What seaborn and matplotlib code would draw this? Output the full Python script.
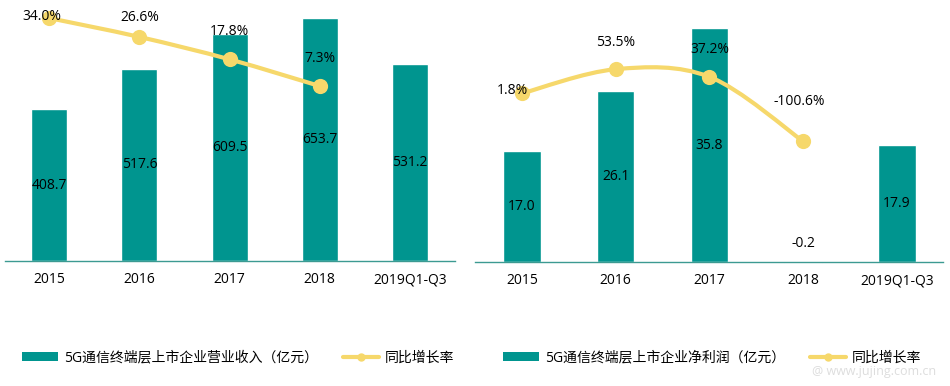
"""
5G terminal-layer listed companies: revenue / net profit with YoY growth.
"""
import numpy as np
import pandas as pd
import matplotlib.pyplot as plt
import seaborn as sns
from matplotlib.path import Path
from matplotlib.patches import PathPatch, Patch
from matplotlib.lines import Line2D

# === DATA ===
YEARS = ["2015", "2016", "2017", "2018", "2019Q1-Q3"]
REVENUE = [408.7, 517.6, 609.5, 653.7, 531.2]
REVENUE_GROWTH = [34.0, 26.6, 17.8, 7.3]
PROFIT = [17.0, 26.1, 35.8, -0.2, 17.9]
PROFIT_GROWTH = [1.8, 53.5, 37.2, -100.6]

REVENUE_LABEL = "5G通信终端层上市企业营业收入（亿元）"
PROFIT_LABEL = "5G通信终端层上市企业净利润（亿元）"
GROWTH_LABEL = "同比增长率"

# === STYLE ===
TEAL = "#00958F"
YELLOW = "#F6D86B"
FONT = ["Open Sans", "Noto Sans CJK SC", "DejaVu Sans"]

sns.set_style("white")
plt.rcParams["font.family"] = FONT
plt.rcParams["text.color"] = "black"
plt.rcParams["xtick.color"] = "black"


def smooth_path(xs, ys):
    """Catmull-Rom curve through the points, as a bezier path (data coords)."""
    pts = np.column_stack([xs, ys]).astype(float)
    verts = [pts[0]]
    codes = [Path.MOVETO]
    n = len(pts)
    for i in range(n - 1):
        p0 = pts[max(i - 1, 0)]
        p1 = pts[i]
        p2 = pts[i + 1]
        p3 = pts[min(i + 2, n - 1)]
        c1 = p1 + (p2 - p0) / 6
        c2 = p2 - (p3 - p1) / 6
        verts += [c1, c2, p2]
        codes += [Path.CURVE4] * 3
    return Path(verts, codes)


def draw_panel(ax, values, growth, ylim, ylim2, xlim, growth_offsets):
    df = pd.DataFrame({"year": YEARS, "value": values})
    sns.barplot(data=df, x="year", y="value", color=TEAL, width=0.4,
                saturation=1, ax=ax, zorder=2)
    ax.set_ylim(*ylim)
    ax.set_xlim(*xlim)
    ax.set_xlabel("")
    ax.set_ylabel("")
    ax.set_yticks([])
    for s in ["top", "right", "left"]:
        ax.spines[s].set_visible(False)
    ax.spines["bottom"].set_position(("data", 0))
    ax.spines["bottom"].set_color("#3C9A92")
    ax.spines["bottom"].set_linewidth(1.0)
    ax.tick_params(axis="x", length=0, pad=8, labelsize=10, labelcolor="black")

    # bar value labels
    for i, v in enumerate(values):
        if v > 0:
            ax.text(i, v / 2, f"{v:.1f}", ha="center", va="center", fontsize=10)
        else:
            ax.annotate(f"{v:.1f}", (i, 0), xytext=(0, 13), textcoords="offset points",
                        ha="center", va="center", fontsize=10)

    # growth line on secondary axis
    ax2 = ax.twinx()
    ax2.set_ylim(*ylim2)
    ax2.set_axis_off()
    xs = np.arange(len(growth))
    ax2.add_patch(PathPatch(smooth_path(xs, growth), facecolor="none",
                            edgecolor=YELLOW, linewidth=3, zorder=3))
    sns.scatterplot(x=xs, y=growth, color=YELLOW, s=120, edgecolor=YELLOW,
                    linewidth=0, ax=ax2, zorder=4, legend=False)
    ax2.set_xlim(*xlim)
    for i, g in enumerate(growth):
        dx, dy = growth_offsets[i]
        ax2.annotate(f"{g:.1f}%", (i, g), xytext=(dx, dy), textcoords="offset points",
                     ha="center", va="center", fontsize=10, zorder=5)
    return ax2


def make_legend(fig, x, label):
    handles = [
        Patch(facecolor=TEAL, edgecolor="none"),
        Line2D([0], [0], color=YELLOW, lw=3, marker="o", markersize=5),
    ]
    fig.legend(handles, [label, GROWTH_LABEL], loc="center left",
               bbox_to_anchor=(x, 0.073), ncol=2, frameon=False, fontsize=10,
               handlelength=2.6, handleheight=0.6, handletextpad=0.4,
               columnspacing=1.8, borderaxespad=0, borderpad=0)


def main():
    fig = plt.figure(figsize=(9.5, 3.86), dpi=100)

    ax_left = fig.add_axes([5 / 950, 1 - 261 / 386, 450 / 950, 261 / 386])
    draw_panel(ax_left, REVENUE, REVENUE_GROWTH,
               ylim=(0, 702), ylim2=(-61.4, 41.1), xlim=(-0.49, 4.5),
               growth_offsets=[(-5, 1), (0, 14), (0, 20), (0, 20)])

    # right panel: small negative margin so the -0.2 bar peeks below the baseline
    ax_right = fig.add_axes([475 / 950, 1 - 264 / 386, 468 / 950, 264 / 386])
    draw_panel(ax_right, PROFIT, PROFIT_GROWTH,
               ylim=(-0.3, 40.1), ylim2=(-362.5, 201.3), xlim=(-0.5, 4.49),
               growth_offsets=[(-7, 2), (0, 19), (0, 20), (-3, 29)])

    make_legend(fig, 22 / 950, REVENUE_LABEL)
    make_legend(fig, 503 / 950, PROFIT_LABEL)

    fig.text(0.985, 0.02, "@ www.jujing.com.cn", ha="right", va="bottom",
             fontsize=9, color="#DDDDDD")

    fig.savefig("out.png", dpi=100)
    plt.close(fig)


if __name__ == "__main__":
    main()
